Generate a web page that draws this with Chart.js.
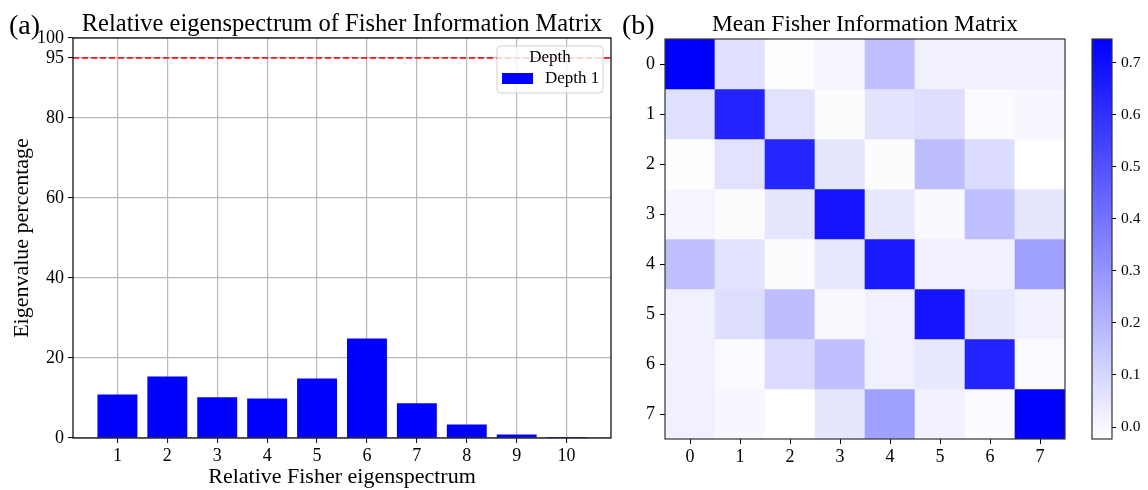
<!DOCTYPE html>
<html>
<head>
<meta charset="utf-8">
<script src="https://cdn.jsdelivr.net/npm/chart.js@4.4.1/dist/chart.umd.min.js"></script>
<style>
    body { margin: 0; background: #fff; }
    #wrap { position: relative; width: 1148px; height: 490px; }
    canvas { position: absolute; top: 0; }
</style>
</head>
<body>
<div id="wrap">
    <canvas id="barChart" width="640" height="490" style="left:0"></canvas>
    <canvas id="heatChart" width="460" height="490" style="left:620px"></canvas>
    <canvas id="cbarChart" width="68" height="490" style="left:1080px"></canvas>
</div>
<script>
// Datos del panel (a): porcentaje de cada autovalor
const eigenIdx = [1, 2, 3, 4, 5, 6, 7, 8, 9, 10];
const eigenPct = [10.9, 15.4, 10.2, 9.9, 14.9, 24.9, 8.7, 3.4, 0.9, 0.25];
const yTicks = [0, 20, 40, 60, 80, 95, 100];
const umbral = 95;
const serieLabel = 'Depth 1';
const legendTitle = 'Depth';

// Datos del panel (b): matriz de Fisher media (simétrica)
const filas = [0, 1, 2, 3, 4, 5, 6, 7];
const fim0 = [0.745, 0.070, -0.017, 0.007, 0.167, 0.022, 0.022, 0.022];
const fim1 = [0.070, 0.640, 0.064, -0.014, 0.058, 0.076, -0.008, 0.001];
const fim2 = [-0.017, 0.064, 0.634, 0.052, -0.014, 0.173, 0.082, -0.023];
const fim3 = [0.007, -0.014, 0.052, 0.686, 0.046, -0.005, 0.167, 0.052];
const fim4 = [0.167, 0.058, -0.014, 0.046, 0.670, 0.022, 0.022, 0.263];
const fim5 = [0.022, 0.076, 0.173, -0.005, 0.022, 0.686, 0.046, 0.016];
const fim6 = [0.022, -0.008, 0.082, 0.167, 0.022, 0.046, 0.640, -0.008];
const fim7 = [0.022, 0.001, -0.023, 0.052, 0.263, 0.016, -0.008, 0.745];
const fim = [fim0, fim1, fim2, fim3, fim4, fim5, fim6, fim7];

// Escala de color
const cbMin = -0.023;
const cbMax = 0.745;
const cbTicks = [0, 0.1, 0.2, 0.3, 0.4, 0.5, 0.6, 0.7];

Chart.defaults.font.family = "'Liberation Serif', 'DejaVu Serif', serif";
Chart.defaults.color = '#000';

// Color blanco -> azul según el valor
const colorFor = (v) => {
    const t = Math.min(1, Math.max(0, (v - cbMin) / (cbMax - cbMin)));
    const c = Math.round(255 * (1 - t));
    return `rgb(${c}, ${c}, 255)`;
};

// Marco negro alrededor del área del gráfico
const marcoPlugin = {
    id: 'marco',
    afterDraw(chart, args, opts) {
        const { ctx, chartArea: a } = chart;
        ctx.save();
        ctx.strokeStyle = opts.color || '#000';
        ctx.lineWidth = 1.2;
        ctx.strokeRect(a.left, a.top, a.right - a.left, a.bottom - a.top);
        ctx.restore();
    }
};

// Título centrado sobre el área y etiqueta del panel
const tituloPlugin = {
    id: 'titulo',
    afterDraw(chart, args, opts) {
        const { ctx, chartArea: a } = chart;
        ctx.save();
        ctx.fillStyle = '#000';
        ctx.textBaseline = 'alphabetic';
        ctx.font = `${opts.size}px ${Chart.defaults.font.family}`;
        ctx.textAlign = 'center';
        ctx.fillText(opts.text, (a.left + a.right) / 2, opts.y);
        ctx.font = `${opts.labelSize}px ${Chart.defaults.font.family}`;
        ctx.textAlign = 'left';
        ctx.fillText(opts.label, opts.labelX, opts.labelY);
        ctx.restore();
    }
};

// Línea roja discontinua del umbral
const umbralPlugin = {
    id: 'umbral',
    afterDraw(chart, args, opts) {
        const { ctx, chartArea: a, scales } = chart;
        const y = scales.y.getPixelForValue(opts.value);
        ctx.save();
        ctx.strokeStyle = '#ff0000';
        ctx.lineWidth = 1.5;
        ctx.setLineDash([6, 3]);
        ctx.beginPath();
        ctx.moveTo(a.left, y);
        ctx.lineTo(a.right, y);
        ctx.stroke();
        ctx.restore();
    }
};

// Leyenda con marco dentro del área
const leyendaPlugin = {
    id: 'leyenda',
    afterDraw(chart, args, opts) {
        const { ctx, chartArea: a } = chart;
        const ds = chart.data.datasets[0];
        const w = 106, h = 47;
        const x0 = a.right - 8 - w, y0 = a.top + 8;
        ctx.save();
        ctx.beginPath();
        ctx.roundRect(x0, y0, w, h, 4);
        ctx.fillStyle = 'rgba(255,255,255,0.8)';
        ctx.fill();
        ctx.strokeStyle = '#d0d0d0';
        ctx.lineWidth = 1;
        ctx.stroke();
        ctx.font = `17px ${Chart.defaults.font.family}`;
        ctx.fillStyle = '#000';
        ctx.textAlign = 'center';
        ctx.textBaseline = 'middle';
        ctx.fillText(opts.title, x0 + w / 2, y0 + 12);
        ctx.fillStyle = ds.backgroundColor;
        ctx.fillRect(x0 + 5, y0 + 27, 31, 11);
        ctx.fillStyle = '#000';
        ctx.textAlign = 'left';
        ctx.fillText(ds.label, x0 + 48, y0 + 33);
        ctx.restore();
    }
};

const tickMarks = { tickLength: 5, tickColor: '#000', tickWidth: 1 };

// Panel (a): barras del espectro
new Chart(document.getElementById('barChart'), {
    type: 'bar',
    data: {
        datasets: [{
            label: serieLabel,
            data: eigenIdx.map((x, i) => ({ x, y: eigenPct[i] })),
            backgroundColor: '#0000ff',
            borderWidth: 0,
            barPercentage: 0.8,
            categoryPercentage: 1
        }]
    },
    options: {
        responsive: false,
        animation: false,
        layout: { padding: { left: 0, top: 38, right: 29, bottom: 0 } },
        plugins: {
            legend: { display: false },
            tooltip: { enabled: false },
            titulo: { text: 'Relative eigenspectrum of Fisher Information Matrix', size: 24.5, y: 31, label: '(a)', labelSize: 28, labelX: 9, labelY: 34 },
            umbral: { value: umbral },
            leyenda: { title: legendTitle },
            marco: { color: '#000' }
        },
        scales: {
            x: {
                type: 'linear',
                min: 0.11,
                max: 10.89,
                offset: false,
                z: 1,
                grid: { offset: false, color: '#b8b8b8', lineWidth: 1.2, ...tickMarks },
                border: { display: false },
                ticks: { font: { size: 18 }, padding: 2 },
                title: { display: true, text: 'Relative Fisher eigenspectrum', font: { size: 22 }, padding: { top: 0, bottom: 0 } },
                afterBuildTicks: (ax) => { ax.ticks = eigenIdx.map(v => ({ value: v })); },
                afterFit: (s) => { s.height = 52; }
            },
            y: {
                min: 0,
                max: 100,
                z: 1,
                grid: { color: '#b8b8b8', lineWidth: 1.2, ...tickMarks },
                border: { display: false },
                ticks: { font: { size: 18 }, padding: 4 },
                title: { display: true, text: 'Eigenvalue percentage', font: { size: 22 }, padding: { top: 9, bottom: 0 } },
                afterBuildTicks: (ax) => { ax.ticks = yTicks.map(v => ({ value: v })); },
                afterFit: (s) => { s.width = 73; }
            }
        }
    },
    plugins: [umbralPlugin, leyendaPlugin, marcoPlugin, tituloPlugin]
});

// Panel (b): mapa de calor con barras flotantes por fila
const heatDatasets = fim.map((fila, r) => ({
    label: `fila ${r}`,
    data: fila.map((v, c) => ({ x: c, y: [r - 0.5, r + 0.5] })),
    backgroundColor: fila.map(colorFor),
    borderWidth: 0,
    grouped: false,
    barPercentage: 1,
    categoryPercentage: 1
}));

new Chart(document.getElementById('heatChart'), {
    type: 'bar',
    data: { datasets: heatDatasets },
    options: {
        responsive: false,
        animation: false,
        layout: { padding: { left: 0, top: 39, right: 15, bottom: 0 } },
        plugins: {
            legend: { display: false },
            tooltip: { enabled: false },
            titulo: { text: 'Mean Fisher Information Matrix', size: 23.5, y: 31, label: '(b)', labelSize: 28, labelX: 2, labelY: 34 },
            marco: { color: '#333' }
        },
        scales: {
            x: {
                type: 'linear',
                min: -0.5,
                max: 7.5,
                offset: false,
                grid: { offset: false, drawOnChartArea: false, ...tickMarks },
                border: { display: false },
                ticks: { font: { size: 18 }, padding: 2 },
                afterBuildTicks: (ax) => { ax.ticks = filas.map(v => ({ value: v })); },
                afterFit: (s) => { s.height = 51; }
            },
            y: {
                type: 'linear',
                reverse: true,
                min: -0.5,
                max: 7.5,
                grid: { drawOnChartArea: false, ...tickMarks },
                border: { display: false },
                ticks: { font: { size: 18 }, padding: 5 },
                afterBuildTicks: (ax) => { ax.ticks = filas.map(v => ({ value: v })); },
                afterFit: (s) => { s.width = 45; }
            }
        }
    },
    plugins: [marcoPlugin, tituloPlugin]
});

// Barra de color
const gradiente = (ctx) => {
    const area = ctx.chart.chartArea;
    if (!area) return '#0000ff';
    const g = ctx.chart.ctx.createLinearGradient(0, area.bottom, 0, area.top);
    g.addColorStop(0, colorFor(cbMin));
    g.addColorStop(1, colorFor(cbMax));
    return g;
};

new Chart(document.getElementById('cbarChart'), {
    type: 'bar',
    data: {
        labels: [''],
        datasets: [{
            data: [[cbMin, cbMax]],
            backgroundColor: gradiente,
            borderWidth: 0,
            barPercentage: 1,
            categoryPercentage: 1
        }]
    },
    options: {
        responsive: false,
        animation: false,
        layout: { padding: { left: 12, top: 39, right: 0, bottom: 51 } },
        plugins: {
            legend: { display: false },
            tooltip: { enabled: false },
            marco: { color: '#333' }
        },
        scales: {
            x: { display: false },
            y: {
                position: 'right',
                min: cbMin,
                max: cbMax,
                grid: { drawOnChartArea: false, tickLength: 4, tickColor: '#000', tickWidth: 1 },
                border: { display: false },
                ticks: { font: { size: 15.5 }, padding: 5, callback: (v) => v.toFixed(1) },
                afterBuildTicks: (ax) => { ax.ticks = cbTicks.map(v => ({ value: v })); },
                afterFit: (s) => { s.width = 36; }
            }
        }
    },
    plugins: [marcoPlugin]
});
</script>
</body>
</html>
